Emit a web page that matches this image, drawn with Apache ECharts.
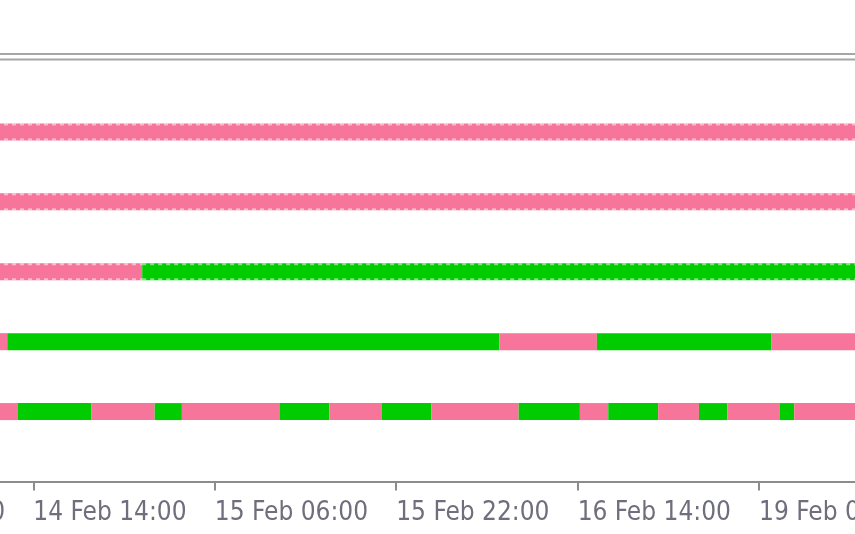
<!DOCTYPE html>
<html>
<head>
<meta charset="utf-8">
<script src="https://cdn.jsdelivr.net/npm/echarts@6/dist/echarts.min.js"></script>
<style>
html,body{margin:0;padding:0;background:#fff;}
#chart{width:855px;height:534px;}
</style>
</head>
<body>
<div id="chart"></div>
<script>
// x values are H1 bar indices (0 = 13 Feb 22:00); one tick label every 16 bars
const tickLabels = ['13 Feb 22:00','14 Feb 14:00','15 Feb 06:00','15 Feb 22:00','16 Feb 14:00','19 Feb 06:00','19 Feb 22:00'];
const rowValues = [5, 4, 3, 2, 1];
const rowDotted = [true, true, true, false, false];
// segments per row: [startBar, endBar, state]  (state 1 = up/green, 0 = down/pink)
const row5Segments = [[12, 89, 0]];
const row4Segments = [[12, 89, 0]];
const row3Segments = [[12, 25.6, 0], [25.6, 89, 1]];
const row2Segments = [[12, 13.7, 0], [13.7, 57.1, 1], [57.1, 65.7, 0], [65.7, 81.1, 1], [81.1, 89, 0]];
const row1Segments = [
  [12, 14.6, 0], [14.6, 21.1, 1], [21.1, 26.7, 0], [26.7, 29.1, 1], [29.1, 37.7, 0],
  [37.7, 42.1, 1], [42.1, 46.7, 0], [46.7, 51.1, 1], [51.1, 58.8, 0], [58.8, 64.2, 1],
  [64.2, 66.7, 0], [66.7, 71.1, 1], [71.1, 74.7, 0], [74.7, 77.2, 1], [77.2, 81.8, 0],
  [81.8, 83.1, 1], [83.1, 89, 0]
];
const rowSegments = [row5Segments, row4Segments, row3Segments, row2Segments, row1Segments];

const COLORS = ['#f7759a', '#00cc00'];
const BAND = 17;

const data = [];
rowSegments.forEach((segs, r) => {
  segs.forEach(s => data.push([s[0], s[1], rowValues[r], s[2], rowDotted[r] ? 1 : 0]));
});

function renderItem(params, api) {
  const a = api.coord([api.value(0), api.value(2)]);
  const b = api.coord([api.value(1), api.value(2)]);
  const color = COLORS[api.value(3)];
  const x = a[0], w = b[0] - a[0], y = a[1] - BAND / 2;
  const children = [{
    type: 'rect',
    shape: {x: x, y: y, width: w, height: BAND},
    style: {fill: color}
  }];
  if (api.value(4) === 1) {
    [y + 1, y + BAND - 1].forEach(yy => {
      children.push({
        type: 'line',
        shape: {x1: x, y1: yy, x2: x + w, y2: yy},
        style: {stroke: 'rgba(255,255,255,0.5)', lineWidth: 2, lineDash: [4, 4]}
      });
    });
  }
  return {type: 'group', children: children};
}

const chart = echarts.init(document.getElementById('chart'), null, {renderer: 'canvas'});
chart.setOption({
  animation: false,
  backgroundColor: '#ffffff',
  grid: {left: -148.1, right: -85.5, top: 62, bottom: 49, containLabel: false, outerBoundsMode: 'none'},
  xAxis: {
    type: 'value',
    min: 0, max: 96, interval: 16,
    axisLine: {show: true, lineStyle: {color: '#8c8c8c', width: 2}},
    axisTick: {show: true, length: 9, lineStyle: {color: '#8c8c8c', width: 2}},
    splitLine: {show: false},
    axisLabel: {
      formatter: v => tickLabels[Math.round(v / 16)] || '',
      align: 'left',
      margin: 15,
      color: '#6e6e7c',
      fontFamily: 'DejaVu Sans Condensed, DejaVu Sans',
      fontSize: 26,
      showMinLabel: true, showMaxLabel: true,
      hideOverlap: false
    }
  },
  yAxis: {
    type: 'value', min: -0.05, max: 6, show: false,
    splitLine: {show: false}
  },
  graphic: [
    {type: 'line', shape: {x1: 0, y1: 54, x2: 855, y2: 54}, style: {stroke: '#a6a6a6', lineWidth: 2}},
    {type: 'line', shape: {x1: 0, y1: 59.5, x2: 855, y2: 59.5}, style: {stroke: '#a6a6a6', lineWidth: 2}}
  ],
  series: [{
    type: 'custom',
    renderItem: renderItem,
    data: data,
    clip: false,
    encode: {x: [0, 1], y: 2}
  }]
});
</script>
</body>
</html>
